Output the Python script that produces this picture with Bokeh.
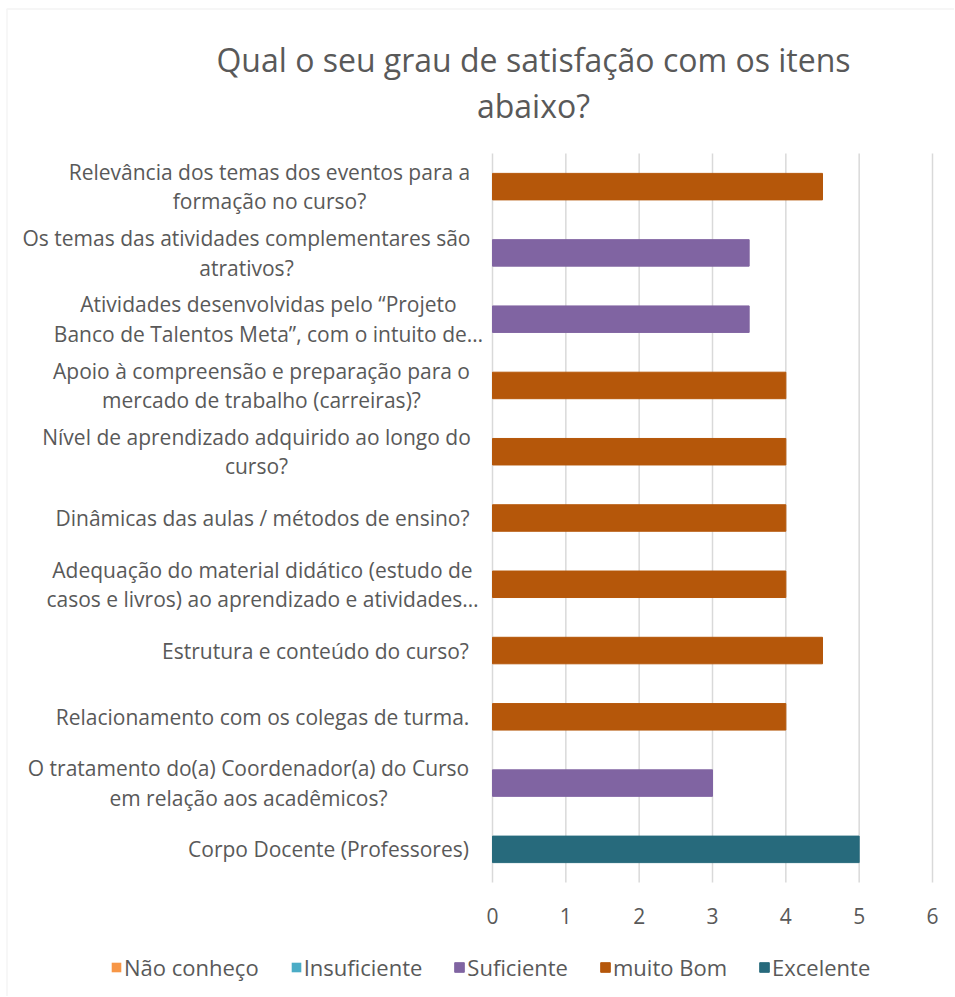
from bokeh.plotting import figure
from bokeh.models import Range1d, Label, Legend, LegendItem, BoxAnnotation
from bokeh.embed import file_html
from bokeh.resources import INLINE

# ---------------- data ----------------
categories = [
    "Relevância dos temas dos eventos para a\nformação no curso?",
    "Os temas das atividades complementares são\natrativos?",
    "Atividades desenvolvidas pelo “Projeto\nBanco de Talentos Meta”, com o intuito de…",
    "Apoio à compreensão e preparação para o\nmercado de trabalho (carreiras)?",
    "Nível de aprendizado adquirido ao longo do\ncurso?",
    "Dinâmicas das aulas / métodos de ensino?",
    "Adequação do material didático (estudo de\ncasos e livros) ao aprendizado e atividades…",
    "Estrutura e conteúdo do curso?",
    "Relacionamento com os colegas de turma.",
    "O tratamento do(a) Coordenador(a) do Curso\nem relação aos acadêmicos?",
    "Corpo Docente (Professores)",
]
values = [4.5, 3.5, 3.5, 4, 4, 4, 4, 4.5, 4, 3, 5]
ratings = ["muito Bom", "Suficiente", "Suficiente", "muito Bom", "muito Bom",
           "muito Bom", "muito Bom", "muito Bom", "muito Bom", "Suficiente", "Excelente"]
rating_levels = ["Não conheço", "Insuficiente", "Suficiente", "muito Bom", "Excelente"]
rating_colors = ["#F79646", "#4BACC6", "#8064A2", "#B5570A", "#276A7C"]
x_ticks = [0, 1, 2, 3, 4, 5, 6]
title_text = "Qual o seu grau de satisfação com os itens\nabaixo?"

# ---------------- layout (figure pixels) ----------------
FONT = "Open Sans"
GRAY = "#595959"
W, H = 954, 996
X0, X6 = 492, 932          # pixel of value 0 and value 6
BT, BB = 153, 882          # top / bottom of the category bands
XMAX = 6
N = len(categories)
SX = (X6 - X0) / XMAX
SY = (BB - BT) / N
# horizontal centre of each category label block
label_cx = [269, 246, 268, 261, 256, 262, 262, 315, 262, 248, 328]


def dx(px):
    return (px - X0) / SX


def dy(py):
    return -0.5 + (py - BT) / SY


p = figure(width=W, height=H, output_backend="svg", toolbar_location=None,
           x_range=Range1d(dx(0), dx(W)), y_range=Range1d(dy(H), dy(0)),
           x_axis_location=None, y_axis_location=None,
           min_border=0)
p.outline_line_color = None
p.grid.visible = False

# chart-area border (left and top edges visible)
p.add_layout(BoxAnnotation(left=dx(6.5), top=dy(8.5), right=dx(W + 10), bottom=dy(H + 10),
                           fill_alpha=0, line_color="#D9D9D9", line_width=1.5))

# vertical grid lines at the value ticks, spanning the category bands
p.segment(x0=x_ticks, x1=x_ticks, y0=-0.5, y1=N - 0.5,
          line_color="#D9D9D9", line_width=1.5)

# value tick labels
p.text(x=x_ticks, y=[dy(915)] * len(x_ticks), text=[str(t) for t in x_ticks],
       text_align="center", text_baseline="middle", text_font={"value": FONT},
       text_font_size="21px", text_color=GRAY)

items = []
for lvl, col in zip(rating_levels, rating_colors):
    ys = [i for i, r in enumerate(ratings) if r == lvl]
    rs = [values[i] for i in ys]
    if ys:
        r = p.hbar(y=ys, left=0, right=rs, height=0.4, fill_color=col, line_color=col)
    else:
        # level with no answers: zero-length bar, only shown in the legend
        r = p.hbar(y=[0], left=0, right=[0], height=0.4, fill_color=col, line_color=None)
    items.append(LegendItem(label=lvl, renderers=[r]))

legend = Legend(items=items, orientation="horizontal", location=(110, 14),
                glyph_width=12, glyph_height=12, label_standoff=2, spacing=31,
                padding=0, margin=0, border_line_color=None, background_fill_alpha=0,
                label_text_font=FONT, label_text_font_size="22px", label_text_color=GRAY)
p.add_layout(legend)

for i, (cat, cx) in enumerate(zip(categories, label_cx)):
    p.add_layout(Label(x=dx(cx), y=i, text=cat, text_align="center",
                       text_baseline="middle", text_font=FONT, text_font_size="21px",
                       text_color=GRAY, text_line_height=1.05))

p.add_layout(Label(x=dx(533), y=dy(82), text=title_text, text_align="center",
                   text_baseline="middle", text_font=FONT, text_font_size="32px",
                   text_color=GRAY, text_line_height=1.05))

open("out.html", "w").write(file_html(p, INLINE))
